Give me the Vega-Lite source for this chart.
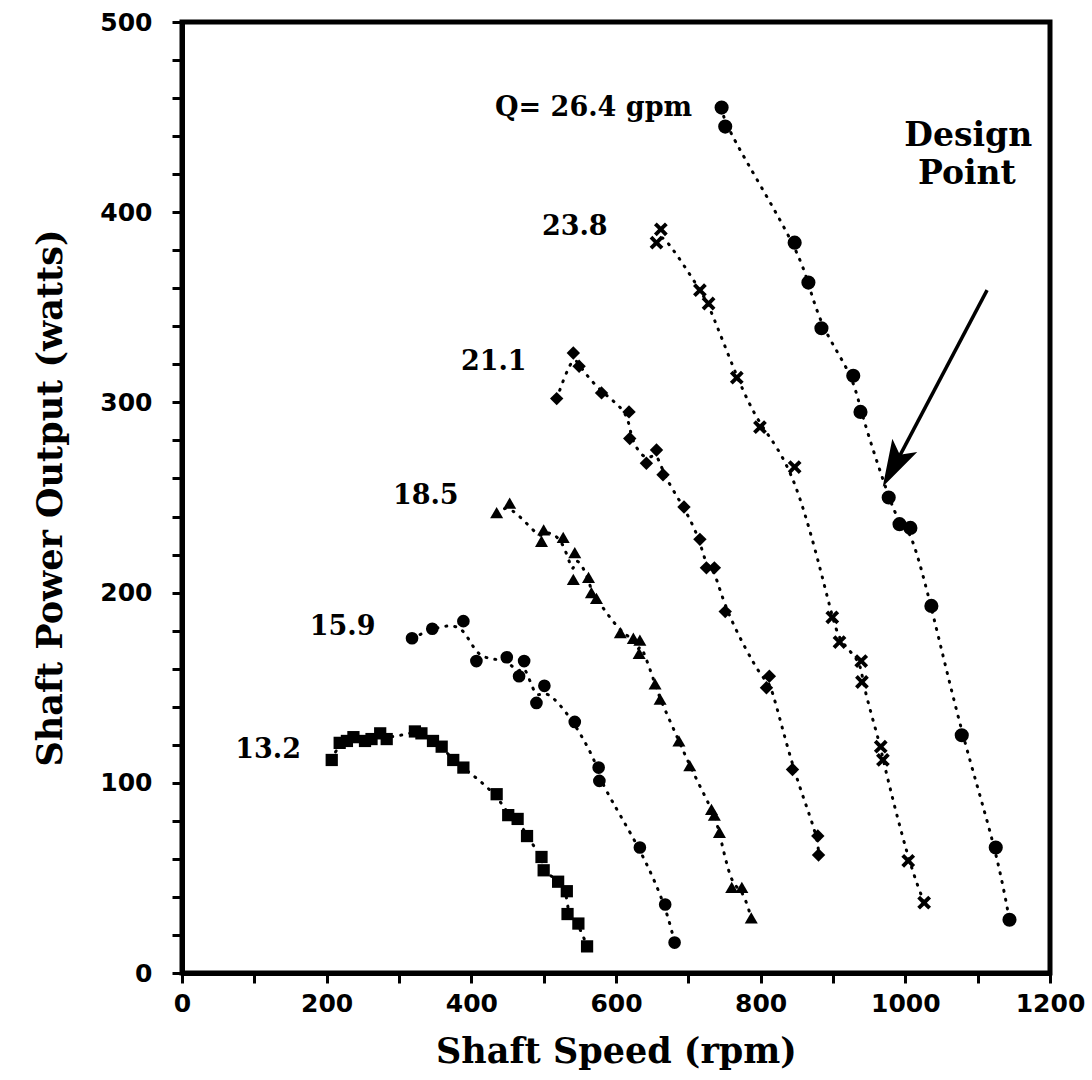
{
  "$schema": "https://vega.github.io/schema/vega-lite/v6.json",
  "width": 868,
  "height": 951,
  "autosize": {"type": "none"},
  "padding": {"left": 182, "top": 22, "right": 42, "bottom": 107},
  "background": "white",
  "config": {
    "view": {"stroke": "black", "strokeWidth": 5}
  },
  "datasets": {
    "points": [
      {"Q": "13.2", "rpm": 207, "W": 112},
      {"Q": "13.2", "rpm": 218, "W": 121},
      {"Q": "13.2", "rpm": 228, "W": 122},
      {"Q": "13.2", "rpm": 237, "W": 124},
      {"Q": "13.2", "rpm": 253, "W": 122},
      {"Q": "13.2", "rpm": 262, "W": 123},
      {"Q": "13.2", "rpm": 274, "W": 126},
      {"Q": "13.2", "rpm": 283, "W": 123},
      {"Q": "13.2", "rpm": 322, "W": 127},
      {"Q": "13.2", "rpm": 331, "W": 126},
      {"Q": "13.2", "rpm": 347, "W": 122},
      {"Q": "13.2", "rpm": 359, "W": 119},
      {"Q": "13.2", "rpm": 375, "W": 112},
      {"Q": "13.2", "rpm": 389, "W": 108},
      {"Q": "13.2", "rpm": 435, "W": 94},
      {"Q": "13.2", "rpm": 451, "W": 83},
      {"Q": "13.2", "rpm": 464, "W": 81},
      {"Q": "13.2", "rpm": 477, "W": 72},
      {"Q": "13.2", "rpm": 497, "W": 61},
      {"Q": "13.2", "rpm": 500, "W": 54},
      {"Q": "13.2", "rpm": 520, "W": 48},
      {"Q": "13.2", "rpm": 532, "W": 43},
      {"Q": "13.2", "rpm": 533, "W": 31},
      {"Q": "13.2", "rpm": 548, "W": 26},
      {"Q": "13.2", "rpm": 560, "W": 14},
      {"Q": "15.9", "rpm": 318, "W": 176},
      {"Q": "15.9", "rpm": 346, "W": 181},
      {"Q": "15.9", "rpm": 389, "W": 185},
      {"Q": "15.9", "rpm": 407, "W": 164},
      {"Q": "15.9", "rpm": 449, "W": 166},
      {"Q": "15.9", "rpm": 466, "W": 156},
      {"Q": "15.9", "rpm": 473, "W": 164},
      {"Q": "15.9", "rpm": 490, "W": 142},
      {"Q": "15.9", "rpm": 501, "W": 151},
      {"Q": "15.9", "rpm": 543, "W": 132},
      {"Q": "15.9", "rpm": 576, "W": 108},
      {"Q": "15.9", "rpm": 577, "W": 101},
      {"Q": "15.9", "rpm": 633, "W": 66},
      {"Q": "15.9", "rpm": 668, "W": 36},
      {"Q": "15.9", "rpm": 681, "W": 16},
      {"Q": "18.5", "rpm": 435, "W": 242},
      {"Q": "18.5", "rpm": 453, "W": 247},
      {"Q": "18.5", "rpm": 497, "W": 227},
      {"Q": "18.5", "rpm": 500, "W": 233},
      {"Q": "18.5", "rpm": 527, "W": 229},
      {"Q": "18.5", "rpm": 541, "W": 207},
      {"Q": "18.5", "rpm": 543, "W": 221},
      {"Q": "18.5", "rpm": 562, "W": 208},
      {"Q": "18.5", "rpm": 566, "W": 200},
      {"Q": "18.5", "rpm": 573, "W": 197},
      {"Q": "18.5", "rpm": 606, "W": 179},
      {"Q": "18.5", "rpm": 624, "W": 176},
      {"Q": "18.5", "rpm": 632, "W": 168},
      {"Q": "18.5", "rpm": 633, "W": 175},
      {"Q": "18.5", "rpm": 654, "W": 152},
      {"Q": "18.5", "rpm": 661, "W": 144},
      {"Q": "18.5", "rpm": 687, "W": 122},
      {"Q": "18.5", "rpm": 702, "W": 109},
      {"Q": "18.5", "rpm": 732, "W": 86},
      {"Q": "18.5", "rpm": 736, "W": 83},
      {"Q": "18.5", "rpm": 743, "W": 74},
      {"Q": "18.5", "rpm": 760, "W": 45},
      {"Q": "18.5", "rpm": 774, "W": 45},
      {"Q": "18.5", "rpm": 787, "W": 29},
      {"Q": "21.1", "rpm": 518, "W": 302},
      {"Q": "21.1", "rpm": 541, "W": 326},
      {"Q": "21.1", "rpm": 549, "W": 319},
      {"Q": "21.1", "rpm": 580, "W": 305},
      {"Q": "21.1", "rpm": 618, "W": 295},
      {"Q": "21.1", "rpm": 619, "W": 281},
      {"Q": "21.1", "rpm": 642, "W": 268},
      {"Q": "21.1", "rpm": 656, "W": 275},
      {"Q": "21.1", "rpm": 665, "W": 262},
      {"Q": "21.1", "rpm": 694, "W": 245},
      {"Q": "21.1", "rpm": 716, "W": 228},
      {"Q": "21.1", "rpm": 725, "W": 213},
      {"Q": "21.1", "rpm": 736, "W": 213},
      {"Q": "21.1", "rpm": 751, "W": 190},
      {"Q": "21.1", "rpm": 808, "W": 150},
      {"Q": "21.1", "rpm": 812, "W": 156},
      {"Q": "21.1", "rpm": 844, "W": 107},
      {"Q": "21.1", "rpm": 879, "W": 72},
      {"Q": "21.1", "rpm": 880, "W": 62},
      {"Q": "23.8", "rpm": 656, "W": 384},
      {"Q": "23.8", "rpm": 662, "W": 391},
      {"Q": "23.8", "rpm": 716, "W": 359},
      {"Q": "23.8", "rpm": 728, "W": 352},
      {"Q": "23.8", "rpm": 767, "W": 313},
      {"Q": "23.8", "rpm": 799, "W": 287},
      {"Q": "23.8", "rpm": 847, "W": 266},
      {"Q": "23.8", "rpm": 899, "W": 187},
      {"Q": "23.8", "rpm": 909, "W": 174},
      {"Q": "23.8", "rpm": 939, "W": 164},
      {"Q": "23.8", "rpm": 940, "W": 153},
      {"Q": "23.8", "rpm": 966, "W": 119},
      {"Q": "23.8", "rpm": 969, "W": 112},
      {"Q": "23.8", "rpm": 1004, "W": 59},
      {"Q": "23.8", "rpm": 1026, "W": 37},
      {"Q": "26.4", "rpm": 746, "W": 455},
      {"Q": "26.4", "rpm": 751, "W": 445},
      {"Q": "26.4", "rpm": 847, "W": 384},
      {"Q": "26.4", "rpm": 866, "W": 363},
      {"Q": "26.4", "rpm": 884, "W": 339},
      {"Q": "26.4", "rpm": 928, "W": 314},
      {"Q": "26.4", "rpm": 938, "W": 295},
      {"Q": "26.4", "rpm": 977, "W": 250},
      {"Q": "26.4", "rpm": 992, "W": 236},
      {"Q": "26.4", "rpm": 1007, "W": 234},
      {"Q": "26.4", "rpm": 1036, "W": 193},
      {"Q": "26.4", "rpm": 1078, "W": 125},
      {"Q": "26.4", "rpm": 1125, "W": 66},
      {"Q": "26.4", "rpm": 1144, "W": 28}
    ],
    "labels": [
      {"text": "Q= 26.4 gpm", "rpm": 569, "W": 455},
      {"text": "23.8", "rpm": 543, "W": 392},
      {"text": "21.1", "rpm": 431, "W": 321},
      {"text": "18.5", "rpm": 337, "W": 251},
      {"text": "15.9", "rpm": 222, "W": 182},
      {"text": "13.2", "rpm": 119, "W": 117}
    ],
    "design": [
      {"text": "Design", "rpm": 1087, "W": 440},
      {"text": "Point", "rpm": 1085, "W": 420}
    ],
    "arrow": [
      {"rpm": 1113, "W": 359, "rpm2": 984, "W2": 266}
    ],
    "head": [
      {"rpm": 984, "W": 266.5}
    ]
  },
  "encoding": {
    "x": {
      "field": "rpm",
      "type": "quantitative",
      "scale": {"domain": [0, 1200], "nice": false, "zero": false},
      "axis": {
        "title": "Shaft Speed (rpm)",
        "values": [0, 100, 200, 300, 400, 500, 600, 700, 800, 900, 1000, 1100, 1200],
        "labelExpr": "datum.value % 200 === 0 ? datum.label : ''",
        "format": "d",
        "grid": false,
        "tickSize": 10,
        "tickWidth": 3,
        "tickColor": "black",
        "domainColor": "black",
        "domainWidth": 5,
        "labelFont": "DejaVu Sans",
        "labelFontSize": 25,
        "labelFontWeight": "bold",
        "labelColor": "black",
        "labelPadding": 8,
        "labelFlush": false,
        "labelOverlap": false,
        "titleFont": "DejaVu Serif",
        "titleFontSize": 35,
        "titleFontWeight": "bold",
        "titleColor": "black",
        "titlePadding": 18
      }
    },
    "y": {
      "field": "W",
      "type": "quantitative",
      "scale": {"domain": [0, 500], "nice": false},
      "axis": {
        "title": "Shaft Power Output  (watts)",
        "values": [0, 20, 40, 60, 80, 100, 120, 140, 160, 180, 200, 220, 240, 260, 280, 300, 320, 340, 360, 380, 400, 420, 440, 460, 480, 500],
        "labelExpr": "datum.value % 100 === 0 ? datum.label : ''",
        "format": "d",
        "grid": false,
        "tickSize": 10,
        "tickWidth": 3,
        "tickColor": "black",
        "domainColor": "black",
        "domainWidth": 5,
        "labelFont": "DejaVu Sans",
        "labelFontSize": 25,
        "labelFontWeight": "bold",
        "labelColor": "black",
        "labelPadding": 20,
        "labelFlush": false,
        "labelOverlap": false,
        "titleFont": "DejaVu Serif",
        "titleFontSize": 35,
        "titleFontWeight": "bold",
        "titleColor": "black",
        "titlePadding": 31
      }
    }
  },
  "layer": [
    {
      "data": {"name": "points"},
      "mark": {"type": "line", "interpolate": "basis", "color": "black", "strokeWidth": 3, "strokeDash": [1, 8], "strokeCap": "round"},
      "encoding": {
        "detail": {"field": "Q", "type": "nominal"},
        "order": {"field": "rpm", "type": "quantitative"}
      }
    },
    {
      "data": {"name": "points"},
      "mark": {"type": "point", "filled": true, "color": "black", "opacity": 1, "strokeWidth": 0},
      "encoding": {
        "shape": {
          "field": "Q",
          "type": "nominal",
          "scale": {
            "domain": ["13.2", "15.9", "18.5", "21.1", "23.8", "26.4"],
            "range": ["square", "circle", "triangle-up", "diamond", "M-1,-0.6L-0.6,-1L0,-0.4L0.6,-1L1,-0.6L0.4,0L1,0.6L0.6,1L0,0.4L-0.6,1L-1,0.6L-0.4,0Z", "circle"]
          },
          "legend": null
        },
        "size": {
          "field": "Q",
          "type": "nominal",
          "scale": {
            "domain": ["13.2", "15.9", "18.5", "21.1", "23.8", "26.4"],
            "range": [150, 200, 210, 180, 230, 190]
          },
          "legend": null
        }
      }
    },
    {
      "data": {"name": "labels"},
      "mark": {"type": "text", "font": "DejaVu Serif", "fontWeight": "bold", "fontSize": 27, "align": "center", "baseline": "middle", "color": "black"},
      "encoding": {
        "text": {"field": "text", "type": "nominal"}
      }
    },
    {
      "data": {"name": "design"},
      "mark": {"type": "text", "font": "DejaVu Serif", "fontWeight": "bold", "fontSize": 33, "align": "center", "baseline": "middle", "color": "black"},
      "encoding": {
        "text": {"field": "text", "type": "nominal"}
      }
    },
    {
      "data": {"name": "arrow"},
      "mark": {"type": "rule", "color": "black", "strokeWidth": 3.5},
      "encoding": {
        "x2": {"field": "rpm2"},
        "y2": {"field": "W2"}
      }
    },
    {
      "data": {"name": "head"},
      "mark": {"type": "point", "filled": true, "color": "black", "opacity": 1, "strokeWidth": 0, "shape": "M0,-1L0.6,1L0,0.55L-0.6,1Z", "size": 2209, "angle": 208}
    }
  ]
}
